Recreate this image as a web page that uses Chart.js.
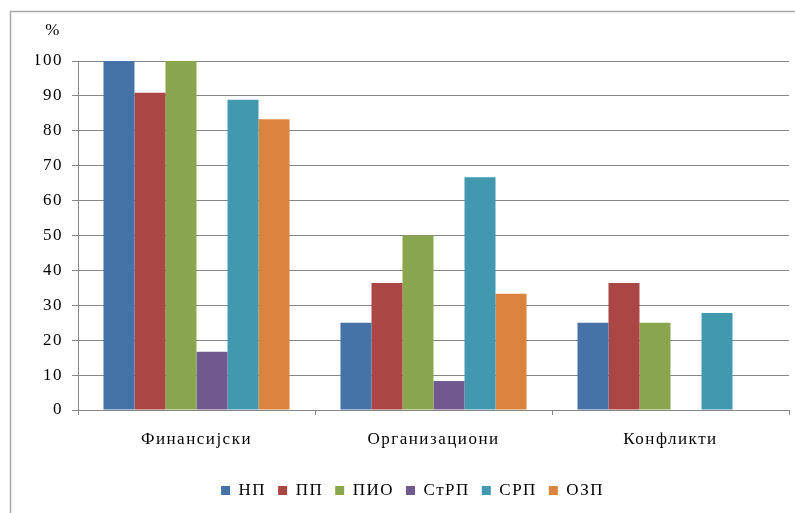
<!DOCTYPE html>
<html>
<head>
<meta charset="utf-8">
<script src="https://cdn.jsdelivr.net/npm/chart.js@4/dist/chart.umd.min.js"></script>
<style>
html,body{margin:0;padding:0;background:#fff;}
#wrap{position:relative;width:795px;height:513px;}
</style>
</head>
<body>
<div id="wrap"><canvas id="c" width="795" height="513"></canvas></div>
<script>
const categories = ["Финансијски", "Организациони", "Конфликти"];
const seriesNames = ["НП", "ПП", "ПИО", "СтРП", "СРП", "ОЗП"];
const valuesNP   = [100, 25, 25];
const valuesPP   = [90.9, 36.4, 36.4];
const valuesPIO  = [100, 50, 25];
const valuesStRP = [16.7, 8.3, 0];
const valuesSRP  = [88.9, 66.7, 27.8];
const valuesOZP  = [83.3, 33.3, 0];
const yTicks = [0, 10, 20, 30, 40, 50, 60, 70, 80, 90, 100];
const yUnit = "%";

const colors = ["#4572A7", "#AA4643", "#89A54E", "#71588F", "#4198AF", "#DB843D"];
const allValues = [valuesNP, valuesPP, valuesPIO, valuesStRP, valuesSRP, valuesOZP];

const FONT = "'Liberation Serif', 'Times New Roman', serif";
const FS = 17;
const LS = "1.5px";
const LEGEND_SHIFT = -5;
const canvas = document.getElementById('c');

const framePlugin = {
  id: 'frame',
  beforeUpdate(chart) { chart.ctx.letterSpacing = LS; },
  beforeLayout(chart) { chart.ctx.letterSpacing = LS; },
  afterLayout(chart) {
    if (chart.legend) {
      chart.legend.top -= LEGEND_SHIFT;
      chart.legend.bottom -= LEGEND_SHIFT;
    }
  },
  beforeDraw(chart) {
    const ctx = chart.ctx;
    ctx.letterSpacing = LS;
    ctx.save();
    ctx.fillStyle = '#fff';
    ctx.fillRect(0, 0, chart.width, chart.height);
    ctx.strokeStyle = '#a6a6a6';
    ctx.lineWidth = 1.5;
    ctx.beginPath();
    ctx.moveTo(10.5, chart.height);
    ctx.lineTo(10.5, 11.5);
    ctx.lineTo(chart.width, 11.5);
    ctx.stroke();
    ctx.restore();
  },
  afterDraw(chart) {
    const y = chart.scales.y;
    const ctx = chart.ctx;
    ctx.save();
    ctx.font = FS + "px " + FONT;
    ctx.fillStyle = '#000';
    ctx.textAlign = 'right';
    ctx.textBaseline = 'middle';
    ctx.fillText(yUnit, y.right - 17, y.getPixelForValue(100) - 30);
    ctx.restore();
  }
};

new Chart(canvas, {
  type: 'bar',
  data: {
    labels: categories,
    datasets: seriesNames.map((n, i) => ({
      label: n,
      data: allValues[i],
      backgroundColor: colors[i],
      borderWidth: 0,
      categoryPercentage: 0.785,
      barPercentage: 1.0
    }))
  },
  options: {
    responsive: false,
    animation: false,
    devicePixelRatio: 1,
    layout: { padding: { left: 36, right: 6, top: 61, bottom: 9 } },
    plugins: {
      legend: {
        position: 'bottom',
        labels: {
          font: { family: FONT, size: FS },
          color: '#000',
          boxWidth: 9,
          boxHeight: 9,
          padding: 12
        }
      },
      tooltip: { enabled: false }
    },
    scales: {
      x: {
        grid: {
          display: true,
          drawOnChartArea: false,
          drawTicks: true,
          tickLength: 5,
          color: '#868686',
          offset: true
        },
        border: { display: true, color: '#868686', width: 1 },
        ticks: {
          font: { family: FONT, size: FS, lineHeight: 1.0 },
          color: '#000',
          padding: 16.5,
          maxRotation: 0,
          autoSkip: false
        }
      },
      y: {
        min: 0,
        max: 100,
        afterFit(scale) { scale.width = 42; },
        afterBuildTicks(scale) { scale.ticks = yTicks.map(v => ({ value: v })); },
        grid: {
          color: '#868686',
          tickLength: 6,
          lineWidth: 1
        },
        border: { display: true, color: '#868686', width: 1 },
        ticks: {
          font: { family: FONT, size: FS },
          color: '#000',
          padding: 9
        }
      }
    }
  },
  plugins: [framePlugin]
});
</script>
</body>
</html>
